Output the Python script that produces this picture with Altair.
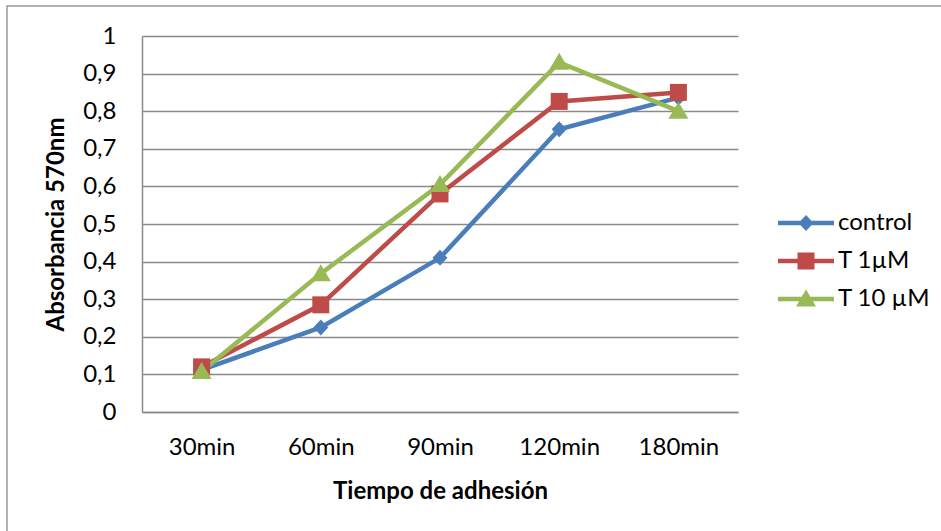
import altair as alt
import pandas as pd

# Adhesion time points and absorbance readings (570 nm)
tiempos = ["30min", "60min", "90min", "120min", "180min"]
series = ["control", "T 1µM", "T 10 µM"]
control = [0.112, 0.225, 0.410, 0.752, 0.836]
t_1um = [0.120, 0.285, 0.580, 0.826, 0.850]
t_10um = [0.108, 0.368, 0.605, 0.930, 0.800]
colores = ["#4A7EBB", "#BE4B48", "#98B954"]

rows = []
for nombre, valores in zip(series, [control, t_1um, t_10um]):
    for t, v in zip(tiempos, valores):
        rows.append({"tiempo": t, "serie": nombre, "abs": v})
df = pd.DataFrame(rows)

# marker outlines (unit box, scaled by the symbol size)
diamante = "M0,-0.8L0.75,0L0,0.8L-0.75,0Z"
cuadrado = "M-0.85,-0.85H0.85V0.85H-0.85Z"
triangulo = "M0,-0.95L1,0.75H-1Z"
marcadores = [diamante, cuadrado, triangulo]
# legend keys: a short line segment with the marker on it
barra = "M-2.8,-0.225H2.8V0.225H-2.8Z "
claves = [barra + m for m in marcadores]

FONT = "Lato"
GRIS = "#8A8A8A"
TAM = 24


def escala_color():
    return alt.Scale(domain=series, range=colores)


x = alt.X(
    "tiempo:N",
    sort=tiempos,
    title="Tiempo de adhesión",
    scale=alt.Scale(paddingInner=0, paddingOuter=0),
    axis=alt.Axis(
        labelAngle=0,
        ticks=False,
        domainColor=GRIS,
        domainWidth=1.5,
        labelFont=FONT,
        labelFontSize=TAM,
        labelColor="#000000",
        labelPadding=23,
        titleFont=FONT,
        titleFontSize=TAM,
        titleFontWeight="bold",
        titleColor="#000000",
        titlePadding=20,
        grid=False,
    ),
)

y = alt.Y(
    "abs:Q",
    title="Absorbancia 570nm",
    scale=alt.Scale(domain=[0, 1], nice=False),
    axis=alt.Axis(
        values=[0, 0.1, 0.2, 0.3, 0.4, 0.5, 0.6, 0.7, 0.8, 0.9, 1.0],
        labelExpr="replace(format(datum.value, '.1~f'), '.', ',')",
        ticks=False,
        domainColor=GRIS,
        domainWidth=1.5,
        gridColor=GRIS,
        gridWidth=1.5,
        labelFont=FONT,
        labelFontSize=TAM,
        labelColor="#000000",
        labelPadding=26,
        titleFont=FONT,
        titleFontSize=TAM,
        titleFontWeight="bold",
        titleColor="#000000",
        titlePadding=14,
    ),
)

base = alt.Chart(df)

lineas = base.mark_line(strokeWidth=4.5).encode(
    x=x, y=y, color=alt.Color("serie:N", scale=escala_color(), legend=None)
)

puntos = base.mark_point(filled=True, size=400, opacity=1).encode(
    x=x,
    y=y,
    color=alt.Color("serie:N", scale=escala_color(), legend=None),
    shape=alt.Shape("serie:N", scale=alt.Scale(domain=series, range=marcadores), legend=None),
)

leyenda_cfg = dict(
    title=None,
    orient="none",
    legendX=652,
    legendY=175,
    labelFont=FONT,
    labelFontSize=TAM,
    labelColor="#000000",
    labelOffset=20,
    symbolSize=400,
    symbolStrokeWidth=0,
    symbolOpacity=1,
    rowPadding=14,
    padding=0,
)

# legend-only layer: keeps the series domain but draws no marks
leyenda = (
    base.transform_filter("false")
    .mark_point(filled=True, size=400, opacity=1)
    .encode(
        x=x,
        y=y,
        color=alt.Color("serie:N", scale=escala_color(), legend=alt.Legend(**leyenda_cfg)),
        shape=alt.Shape(
            "serie:N",
            scale=alt.Scale(domain=series, range=claves),
            legend=alt.Legend(**leyenda_cfg),
        ),
    )
)

# outer chart frame (left and top edges fall inside the page)
marco = alt.Chart(pd.DataFrame({"a": [0]})).mark_rect(
    fill=None, stroke="#9A9A9A", strokeWidth=1.5
).encode(
    x=alt.value(-135),
    x2=alt.value(820),
    y=alt.value(-30),
    y2=alt.value(510),
)

chart = (
    alt.layer(marco, lineas, puntos, leyenda)
    .resolve_scale(color="independent", shape="independent")
    .properties(
        width=596,
        height=376,
        autosize=alt.AutoSizeParams(type="none"),
        padding={"left": 142, "top": 36, "right": 203, "bottom": 119},
        background="#FFFFFF",
    )
    .configure_view(stroke=None)
)

chart.save("out.html", embed_options={"renderer": "svg", "actions": False})
